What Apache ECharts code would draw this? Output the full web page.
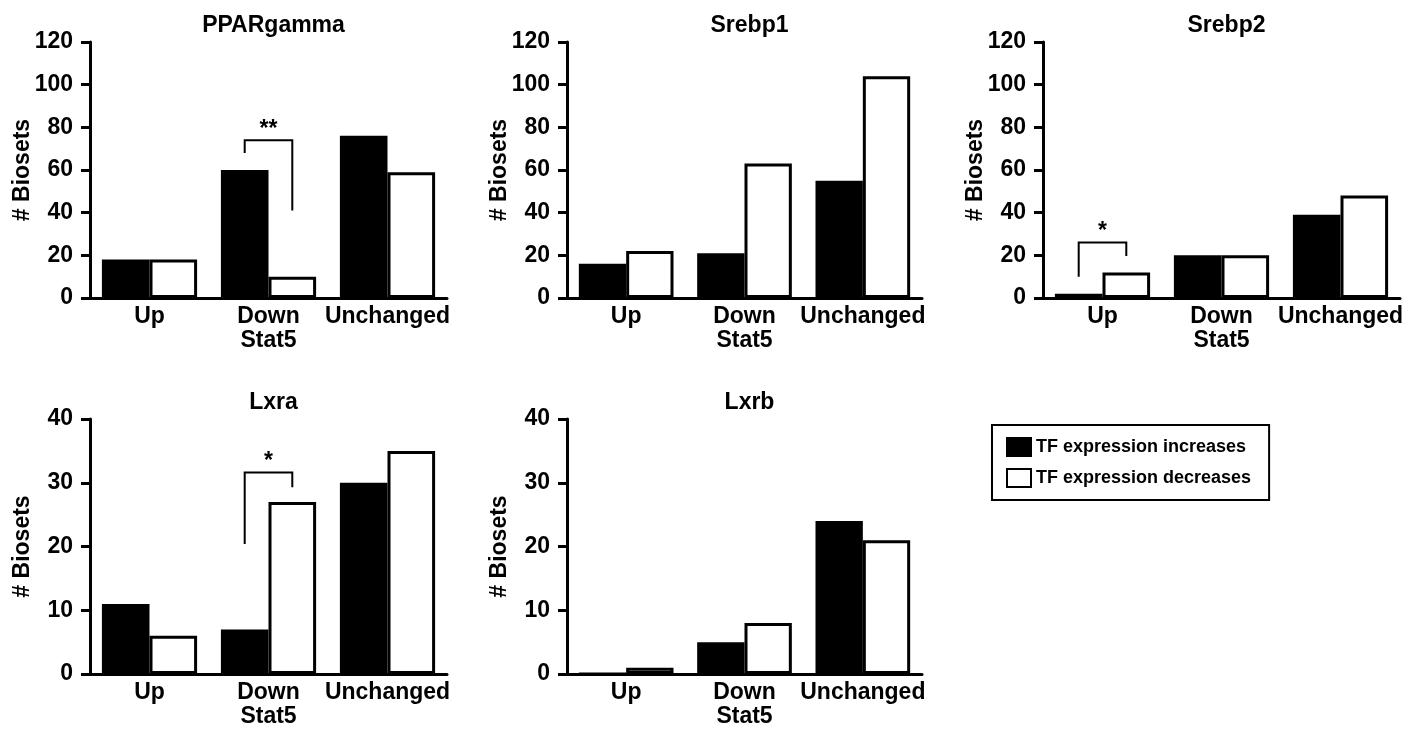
<!DOCTYPE html>
<html>
<head>
<meta charset="utf-8">
<script src="https://cdn.jsdelivr.net/npm/echarts@6/dist/echarts.min.js"></script>
<style>
  html, body { margin: 0; padding: 0; background: #fff; }
  #chart { width: 1413px; height: 729px; }
</style>
</head>
<body>
<div id="chart"></div>
<script>
// categories / names
const categories = ['Up', 'Down', 'Unchanged'];
const seriesNames = ['TF expression increases', 'TF expression decreases'];
const panelTitles = ['PPARgamma', 'Srebp1', 'Srebp2', 'Lxra', 'Lxrb'];

// values (# Biosets)
const pparIncrease = [18, 60, 76];
const pparDecrease = [18, 10, 59];
const srebp1Increase = [16, 21, 55];
const srebp1Decrease = [22, 63, 104];
const srebp2Increase = [2, 20, 39];
const srebp2Decrease = [12, 20, 48];
const lxraIncrease = [11, 7, 30];
const lxraDecrease = [6, 27, 35];
const lxrbIncrease = [0, 5, 24];
const lxrbDecrease = [1, 8, 21];

const yMax = [120, 120, 120, 40, 40];
const yStep = [20, 20, 20, 10, 10];

// significance brackets: panel, category index, left end, top, right end (data units)
const bracketPanel = [0, 2, 3];
const bracketCat = [1, 0, 1];
const bracketLeft = [68, 10, 20.4];
const bracketTop = [74, 26, 31.6];
const bracketRight = [41, 19.7, 29.3];
const bracketMark = ['**', '*', '*'];

const increases = [pparIncrease, srebp1Increase, srebp2Increase, lxraIncrease, lxrbIncrease];
const decreases = [pparDecrease, srebp1Decrease, srebp2Decrease, lxraDecrease, lxrbDecrease];

const FONT = 'Liberation Sans, Arial, sans-serif';
const grids = [
  {left: 90, top: 42, width: 357, height: 256},
  {left: 567, top: 42, width: 355, height: 256},
  {left: 1043, top: 42, width: 357, height: 256},
  {left: 90, top: 419, width: 357, height: 256},
  {left: 567, top: 419, width: 355, height: 256}
];

const BAR = 0.4;
const option = {
  animation: false,
  backgroundColor: '#fff',
  textStyle: {fontFamily: FONT, color: '#000'},
  title: grids.map((g, i) => ({
    text: panelTitles[i],
    left: g.left + g.width / 2,
    top: g.top - 33,
    textAlign: 'center',
    textStyle: {fontFamily: FONT, fontSize: 23, fontWeight: 'bold', color: '#000'}
  })),
  legend: {
    data: seriesNames,
    orient: 'vertical',
    left: 992,
    top: 425,
    padding: [12, 18, 12, 14],
    itemGap: 11,
    itemWidth: 24,
    itemHeight: 18,
    icon: 'rect',
    borderColor: '#000',
    borderWidth: 2,
    textStyle: {fontFamily: FONT, fontSize: 18, fontWeight: 'bold', color: '#000'}
  },
  grid: grids,
  xAxis: grids.map((g, i) => ({
    type: 'category',
    gridIndex: i,
    data: categories,
    name: 'Stat5',
    nameLocation: 'middle',
    nameGap: 31,
    nameTextStyle: {fontFamily: FONT, fontSize: 23, fontWeight: 'bold', color: '#000'},
    axisLine: {lineStyle: {color: '#000', width: 3}},
    axisTick: {show: false},
    axisLabel: {fontFamily: FONT, fontSize: 23, fontWeight: 'bold', color: '#000', margin: 7, interval: 0}
  })),
  yAxis: grids.map((g, i) => ({
    type: 'value',
    gridIndex: i,
    min: 0,
    max: yMax[i],
    interval: yStep[i],
    name: '# Biosets',
    nameLocation: 'middle',
    nameGap: 56,
    nameMoveOverlap: false,
    nameTextStyle: {fontFamily: FONT, fontSize: 23, fontWeight: 'bold', color: '#000'},
    axisLine: {show: true, lineStyle: {color: '#000', width: 3}},
    axisTick: {show: true, length: 9, lineStyle: {color: '#000', width: 3}},
    splitLine: {show: false},
    axisLabel: {fontFamily: FONT, fontSize: 23, fontWeight: 'bold', color: '#000', margin: 17}
  })),
  series: []
};

grids.forEach((g, i) => {
  option.series.push({
    name: seriesNames[0],
    type: 'bar',
    xAxisIndex: i,
    yAxisIndex: i,
    data: increases[i],
    barWidth: (BAR * 100) + '%',
    barGap: '0%',
    itemStyle: {color: '#000', borderColor: '#000', borderWidth: 3}
  });
  option.series.push({
    name: seriesNames[1],
    type: 'bar',
    xAxisIndex: i,
    yAxisIndex: i,
    data: decreases[i],
    barWidth: (BAR * 100) + '%',
    barGap: '0%',
    itemStyle: {color: '#fff', borderColor: '#000', borderWidth: 3}
  });
});

bracketPanel.forEach((p, k) => {
  option.series.push({
    name: 'bracket' + k,
    type: 'custom',
    xAxisIndex: p,
    yAxisIndex: p,
    silent: true,
    data: [[bracketCat[k], bracketLeft[k], bracketTop[k], bracketRight[k]]],
    encode: {x: 0, y: [1, 2, 3]},
    renderItem: function (params, api) {
      const cat = api.value(0);
      const off = api.size([1, 0])[0] * BAR / 2;
      const pl = api.coord([cat, api.value(1)]);
      const pt = api.coord([cat, api.value(2)]);
      const pr = api.coord([cat, api.value(3)]);
      return {
        type: 'group',
        children: [{
          type: 'polyline',
          shape: {points: [[pl[0] - off, pl[1]], [pt[0] - off, pt[1]], [pt[0] + off, pt[1]], [pr[0] + off, pr[1]]]},
          style: {stroke: '#000', lineWidth: 2, fill: null}
        }, {
          type: 'text',
          x: pt[0],
          y: pt[1] + 1,
          style: {text: bracketMark[k], fill: '#000', font: 'bold 23px ' + FONT, align: 'center', verticalAlign: 'bottom'}
        }]
      };
    }
  });
});

const chart = echarts.init(document.getElementById('chart'));
chart.setOption(option);
</script>
</body>
</html>
